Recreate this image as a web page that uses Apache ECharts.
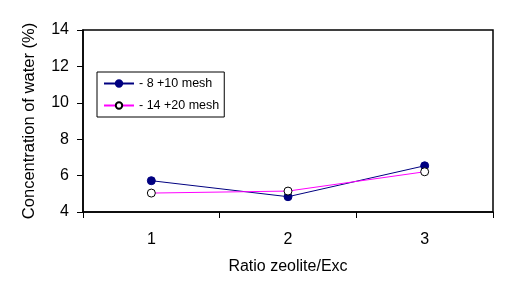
<!DOCTYPE html>
<html>
<head>
<meta charset="utf-8">
<script src="https://cdn.jsdelivr.net/npm/echarts@6/dist/echarts.min.js"></script>
<style>
  html, body { margin: 0; padding: 0; background: #fff; }
  #chart { width: 518px; height: 289px; }
</style>
</head>
<body>
<div id="chart"></div>
<script>
// data
var ratios = ["1", "2", "3"];
var mesh8_10 = [5.72, 4.84, 6.54];
var mesh14_20 = [5.04, 5.15, 6.21];
var seriesNames = ["- 8 +10 mesh", "- 14 +20 mesh"];

var font = "Liberation Sans, Arial, sans-serif";
var mychart = echarts.init(document.getElementById("chart"));
mychart.setOption({
  animation: false,
  grid: {
    left: 83, right: 25, top: 30, bottom: 77,
    show: true,
    borderColor: "#000",
    borderWidth: 1.5
  },
  legend: {
    left: 97, top: 72,
    orient: "vertical",
    itemWidth: 30,
    itemHeight: 8,
    itemGap: 9,
    padding: [5, 5, 5, 6],
    borderColor: "#000",
    borderWidth: 1,
    backgroundColor: "#fff",
    textStyle: { fontFamily: font, fontSize: 12.5, color: "#000" },
    data: seriesNames
  },
  xAxis: {
    type: "category",
    data: ratios,
    boundaryGap: true,
    name: "Ratio zeolite/Exc",
    nameLocation: "middle",
    nameGap: 47,
    nameTextStyle: { fontFamily: font, fontSize: 16, color: "#000" },
    axisLine: { lineStyle: { color: "#000", width: 1.5 } },
    axisTick: { show: true, length: 6, lineStyle: { color: "#000" } },
    axisLabel: { fontFamily: font, fontSize: 16, color: "#000", margin: 20 },
    splitLine: { show: false }
  },
  yAxis: {
    type: "value",
    min: 4, max: 14, interval: 2,
    name: "Concentration of water (%)",
    nameLocation: "middle",
    nameGap: 45,
    nameTextStyle: { fontFamily: font, fontSize: 16.5, color: "#000" },
    axisLine: { show: true, lineStyle: { color: "#000", width: 1.5 } },
    axisTick: { show: true, length: 6, lineStyle: { color: "#000" } },
    axisLabel: { fontFamily: font, fontSize: 16, color: "#000", margin: 14 },
    splitLine: { show: false }
  },
  series: [
    {
      name: seriesNames[0],
      type: "line",
      data: mesh8_10,
      symbol: "circle",
      symbolSize: 8,
      lineStyle: { color: "#000080", width: 1 },
      itemStyle: { color: "#000080", borderColor: "#000080", borderWidth: 1 }
    },
    {
      name: seriesNames[1],
      type: "line",
      data: mesh14_20,
      symbol: "circle",
      symbolSize: 8,
      lineStyle: { color: "#ff00ff", width: 1 },
      itemStyle: { color: "#fff", borderColor: "#000", borderWidth: 1 }
    }
  ]
});
</script>
</body>
</html>
